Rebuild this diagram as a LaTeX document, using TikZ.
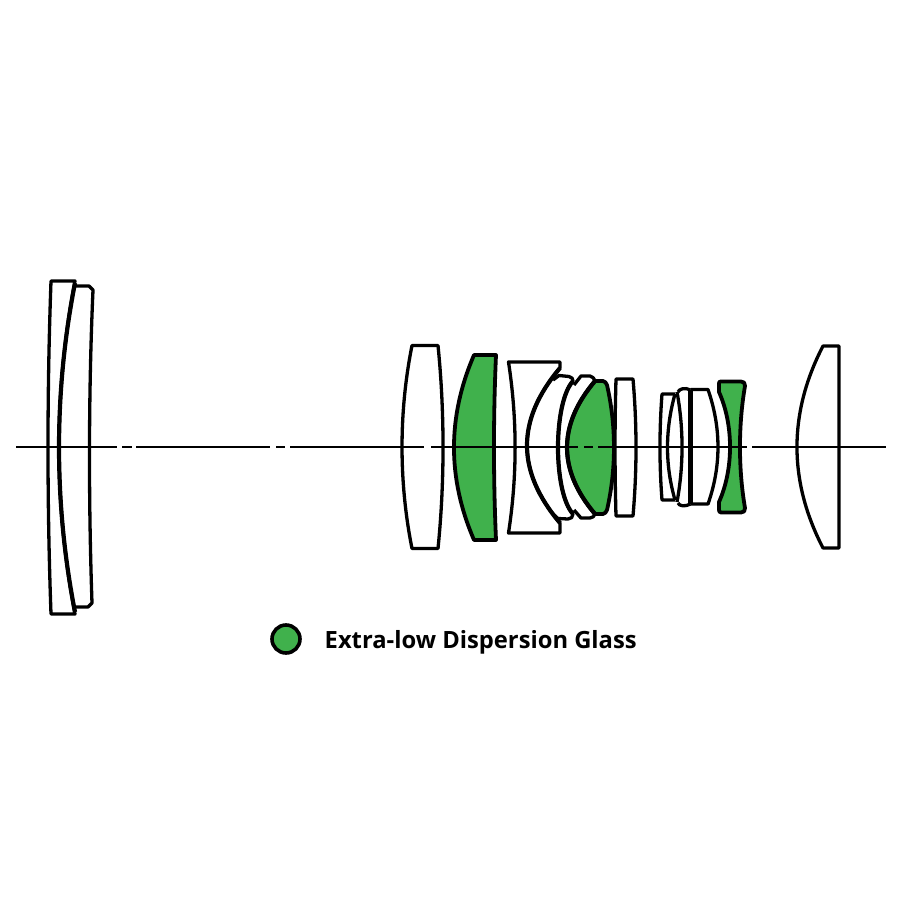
\documentclass[tikz,border=0pt]{standalone}
\usepackage{fontspec}
\setmainfont{Open Sans}
\definecolor{elgreen}{RGB}{64,177,76}
\tikzset{
  lens/.style={draw=black,line width=3.3pt,line join=round},
  thicklens/.style={draw=black,line width=4.2pt,line join=round},
  edl/.style={draw=black,line width=3.8pt,line join=round,fill=elgreen},
  axisline/.style={draw=black,line width=1.5pt},
  legendtext/.style={inner sep=0pt,anchor=base west,font=\bfseries\fontsize{23.75}{26}\selectfont}
}
\begin{document}
\begin{tikzpicture}[x=1pt,y=-1pt]
\useasboundingbox (0,0) rectangle (900,900);
\fill[white] (0,0) rectangle (900,900);
% green glass
\path[edl] (474,355) -- (496,355) .. controls (493.3,417) and (493.3,478) .. (496,540) -- (474,540) .. controls (447.3,478) and (447.3,417) .. (474,355) -- cycle;
\path[edl] (595,381) -- (603,381) .. controls (605,381) and (606,383) .. (607,385) .. controls (616.3,426) and (616.3,469) .. (607,510) .. controls (606,512) and (605,514) .. (603,514) -- (595,514) .. controls (557.7,470) and (557.7,425) .. (595,381) -- cycle;
\path[edl] (721,381.5) -- (741,381.5) .. controls (744,381.5) and (745,383) .. (745,386) .. controls (738.3,425) and (738.3,469) .. (745,508) .. controls (745,511) and (744,512.5) .. (741,512.5) -- (721,512.5) .. controls (719,512.5) and (719,511) .. (719,509) -- (719,502) .. controls (733.7,469) and (733.7,425) .. (719,392) -- (719,384) .. controls (719,382) and (719,381.5) .. (721,381.5) -- cycle;
% front group
\path[lens] (51,281) -- (75,281) .. controls (53.7,392) and (53.7,503) .. (75,614) -- (51,614) .. controls (47,503) and (47,392) .. (51,281) -- cycle;
\path[thicklens] (75,283) .. controls (53.7,392) and (53.7,503) .. (75,612);
\path[lens] (76,286) -- (89,286) -- (93,290) .. controls (88.5,392) and (88.5,501) .. (92,603) -- (88,607) -- (76,607);
% biconvex
\path[lens] (412,345.5) -- (438,345.5) .. controls (444.7,412) and (444.7,482) .. (438,548.5) -- (412,548.5) .. controls (398.7,482) and (398.7,412) .. (412,345.5) -- cycle;
% concave block
\path[lens] (508.5,362) -- (560,362) -- (560,368) .. controls (516,420) and (516,471) .. (560,523) -- (560,533) -- (508.5,533) .. controls (517.3,476) and (517.3,419) .. (508.5,362) -- cycle;
\path[thicklens] (560,368) .. controls (516,420) and (516,471) .. (560,523);
% menisci
\path[lens] (553,380) -- (559,375.5) -- (569,376.5) .. controls (572,377) and (573,379) .. (573,381) .. controls (553,403) and (553,492) .. (573,514) .. controls (573,517) and (571,519) .. (568,519) -- (558,518.5) -- (553,514);
\path[thicklens] (573,381) .. controls (553,403) and (553,492) .. (573,514);
\path[lens] (574,385) -- (581,376) -- (590,376) .. controls (593,376) and (594,379) .. (595,381) (595,514) .. controls (594,516) and (593,518) .. (590,518) -- (581,518) -- (574,510);
\path[thicklens] (595,381) .. controls (557.7,425) and (557.7,470) .. (595,514);
% plate
\path[lens] (616,379) -- (633,379) .. controls (637,425) and (637,470) .. (633,516) -- (616,516) .. controls (614.7,470) and (614.7,425) .. (616,379) -- cycle;
% small group
\path[lens] (675,394) -- (662,394) .. controls (659.3,430) and (659.3,465) .. (662,500) -- (675,500);
\path[lens] (675,394) .. controls (665,430) and (665,465) .. (675,500);
\path[lens] (677,392) .. controls (683.7,428) and (683.7,466) .. (677,502);
\path[lens] (678,392) .. controls (679,389) and (685,387) .. (690.5,390) (678,503) .. controls (679,506) and (685,507) .. (690.5,504);
\path[thicklens] (690.5,390) -- (690.5,504);
\path[lens] (690.5,389.5) -- (708,389.5) .. controls (721.3,428) and (721.3,466) .. (708,504) -- (690.5,504);
% rear element
\path[lens] (823,346) -- (839,346) -- (839,548) -- (823,548) .. controls (788.3,481) and (788.3,413) .. (823,346) -- cycle;
% axis
\coordinate (a0) at (16,447);   \coordinate (a1) at (117,447);
\coordinate (a2) at (122,447);  \coordinate (a3) at (132,447);
\coordinate (a4) at (136,447);  \coordinate (a5) at (270,447);
\coordinate (a6) at (276,447);  \coordinate (a7) at (285,447);
\coordinate (a8) at (290,447);  \coordinate (a9) at (424,447);
\coordinate (b0) at (431,447);  \coordinate (b1) at (578,447);
\coordinate (b2) at (584,447);  \coordinate (b3) at (593,447);
\coordinate (b4) at (598,447);  \coordinate (b5) at (747,447);
\coordinate (b6) at (752,447);  \coordinate (b7) at (886,447);
\draw[axisline] (a0)--(a1) (a2)--(a3) (a4)--(a5) (a6)--(a7) (a8)--(a9) (b0)--(b1) (b2)--(b3) (b4)--(b5) (b6)--(b7);
% legend
\node[circle,draw=black,line width=3.6pt,fill=elgreen,minimum size=28pt,inner sep=0pt] (key) at (286,639) {};
\node[legendtext] (keytext) at (324.5,648) {Extra-low Dispersion Glass};
\end{tikzpicture}
\end{document}
